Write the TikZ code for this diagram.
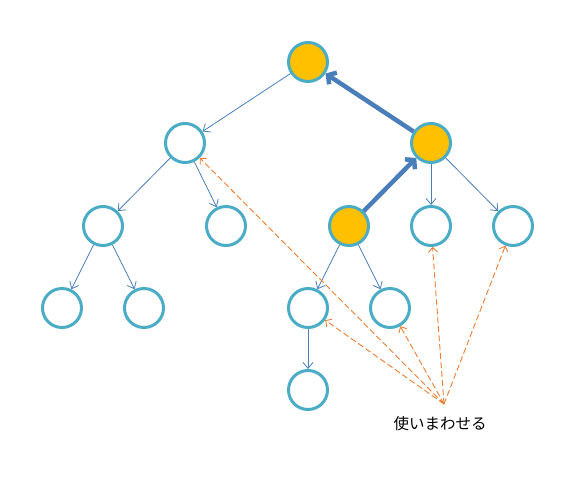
\documentclass[tikz,border=0pt]{standalone}
\usepackage{fontspec}
\newfontfamily\cjk{Noto Sans CJK JP}
\usetikzlibrary{arrows.meta}
\definecolor{ringc}{HTML}{4BACC6}
\definecolor{fillc}{HTML}{FFC000}
\definecolor{edgec}{HTML}{4A7EBB}
\definecolor{dashc}{HTML}{ED7D31}
\begin{document}
\begin{tikzpicture}[x=1pt,y=-1pt,
  nd/.style={circle,draw=ringc,line width=3pt,minimum size=39pt,inner sep=0pt,fill=white},
  hot/.style={nd,fill=fillc},
  edge/.style={draw=edgec,line width=0.8pt,-{Straight Barb[length=6pt,width=10pt]}},
  thick edge/.style={draw=edgec,line width=4.5pt,-{Straight Barb[length=6pt,width=14pt]}},
  reuse/.style={draw=dashc,line width=0.9pt,dash pattern=on 6pt off 3pt,-{Straight Barb[length=4.5pt,width=9pt]}}]
\useasboundingbox (0,0) rectangle (575,493);
\node[hot] (r) at (308,62) {};
\node[nd] (a) at (185,143) {};
\node[hot] (b) at (431,143) {};
\node[nd] (a1) at (103,226) {};
\node[nd] (a2) at (226,226) {};
\node[hot] (b1) at (349,226) {};
\node[nd] (b2) at (431,226) {};
\node[nd] (b3) at (513,226) {};
\node[nd] (c1) at (62,308) {};
\node[nd] (c2) at (144,308) {};
\node[nd] (d1) at (308,308) {};
\node[nd] (d2) at (390,308) {};
\node[nd] (e1) at (308,390) {};
\coordinate (src) at (444,404);
\node[font=\cjk\fontsize{15.5}{18}\selectfont,anchor=north,inner sep=0pt] (t) at (440,416) {使いまわせる};
\draw[edge] (r) -- (a);
\draw[edge] (a) -- (a1);
\draw[edge] (a) -- (a2);
\draw[edge] (a1) -- (c1);
\draw[edge] (a1) -- (c2);
\draw[edge] (b) -- (b2);
\draw[edge] (b) -- (b3);
\draw[edge] (b1) -- (d1);
\draw[edge] (b1) -- (d2);
\draw[edge] (d1) -- (e1);
\draw[thick edge] (b1) -- (b);
\draw[thick edge] (b) -- (r);
\draw[reuse] (src) -- (a);
\draw[reuse] (src) -- (d1);
\draw[reuse] (src) -- (d2);
\draw[reuse] (src) -- (b2);
\draw[reuse] (src) -- (b3);
\end{tikzpicture}
\end{document}
